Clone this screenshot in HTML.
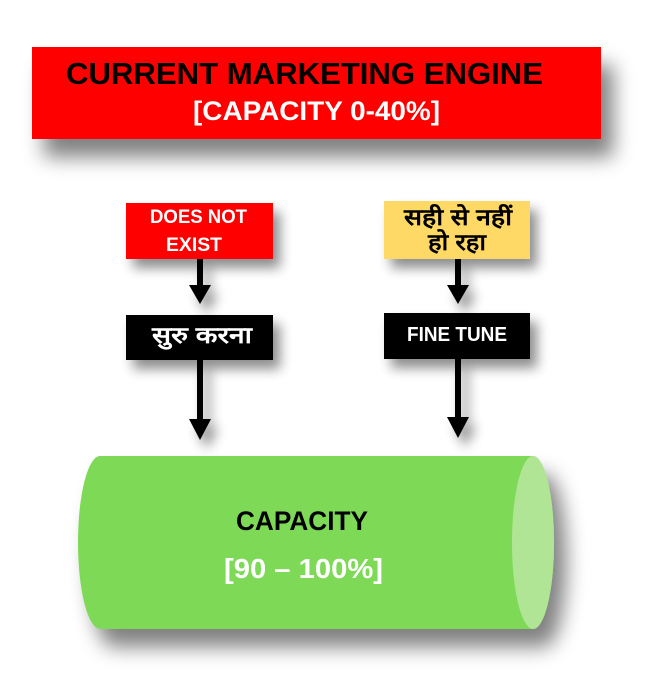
<!DOCTYPE html>
<html><head><meta charset="utf-8"><style>
html,body{margin:0;padding:0;background:#fff;}
svg{display:block;font-family:"Liberation Sans","Noto Sans CJK SC",sans-serif;font-weight:bold;}
</style></head><body>
<svg width="666" height="694" viewBox="0 0 666 694" xmlns="http://www.w3.org/2000/svg">
<defs>
<filter id="sh" x="-20%" y="-30%" width="150%" height="200%">
<feGaussianBlur in="SourceAlpha" stdDeviation="10"/>
<feOffset dx="12" dy="18" result="b"/>
<feComponentTransfer><feFuncA type="linear" slope="0.5"/></feComponentTransfer>
<feMerge><feMergeNode/><feMergeNode in="SourceGraphic"/></feMerge>
</filter>
<filter id="sh2" x="-30%" y="-40%" width="170%" height="190%">
<feGaussianBlur in="SourceAlpha" stdDeviation="6"/>
<feOffset dx="7" dy="9"/>
<feComponentTransfer><feFuncA type="linear" slope="0.45"/></feComponentTransfer>
<feMerge><feMergeNode/><feMergeNode in="SourceGraphic"/></feMerge>
</filter>
</defs>
<rect x="32" y="47" width="569" height="92" fill="#ff0000" filter="url(#sh)"/>
<text x="66" y="84" font-size="31" fill="#000" textLength="477" lengthAdjust="spacingAndGlyphs">CURRENT MARKETING ENGINE</text>
<text x="193" y="120" font-size="27" fill="#fff" textLength="247" lengthAdjust="spacingAndGlyphs">[CAPACITY 0-40%]</text>

<rect x="126" y="203" width="147" height="56" fill="#ff0000" filter="url(#sh2)"/>
<text x="150" y="223" font-size="19" fill="#fff" textLength="97" lengthAdjust="spacingAndGlyphs">DOES NOT</text>
<text x="166" y="251" font-size="19" fill="#fff" textLength="56" lengthAdjust="spacingAndGlyphs">EXIST</text>

<rect x="384" y="201" width="146" height="58" fill="#ffd966" filter="url(#sh2)"/>
<text x="404" y="225" font-size="23" fill="#000" textLength="108" lengthAdjust="spacingAndGlyphs">सही से नहीं</text>
<text x="428" y="250" font-size="23" fill="#000" textLength="58" lengthAdjust="spacingAndGlyphs">हो रहा</text>

<rect x="126" y="315" width="147" height="45" fill="#000" filter="url(#sh2)"/>
<text x="152" y="343" font-size="23" fill="#fff" textLength="100" lengthAdjust="spacingAndGlyphs">सुरु करना</text>
<rect x="384" y="313" width="146" height="46" fill="#000" filter="url(#sh2)"/>
<text x="407" y="341" font-size="20" fill="#fff" textLength="100" lengthAdjust="spacingAndGlyphs">FINE TUNE</text>

<g fill="#000" filter="url(#sh2)">
<rect x="197" y="259" width="6" height="27"/><polygon points="189,285 211,285 200,304"/>
<rect x="455" y="259" width="6" height="27"/><polygon points="447,285 469,285 458,304"/>
<rect x="197" y="360" width="6" height="62"/><polygon points="189,419 211,419 200,440"/>
<rect x="455" y="359" width="6" height="62"/><polygon points="447,417 469,417 458,438"/>
</g>

<g filter="url(#sh)">
<path d="M100,456 L533,456 A21,86.5 0 0 1 533,629 L100,629 A22,86.5 0 0 1 100,456 Z" fill="#7ed957"/>
</g>
<ellipse cx="533" cy="542.5" rx="21" ry="86.5" fill="#b0e596"/>
<text x="236" y="530" font-size="27" fill="#000" textLength="132" lengthAdjust="spacingAndGlyphs">CAPACITY</text>
<text x="224" y="578" font-size="28" fill="#fff" textLength="159" lengthAdjust="spacingAndGlyphs">[90 – 100%]</text>
</svg>
</body></html>
